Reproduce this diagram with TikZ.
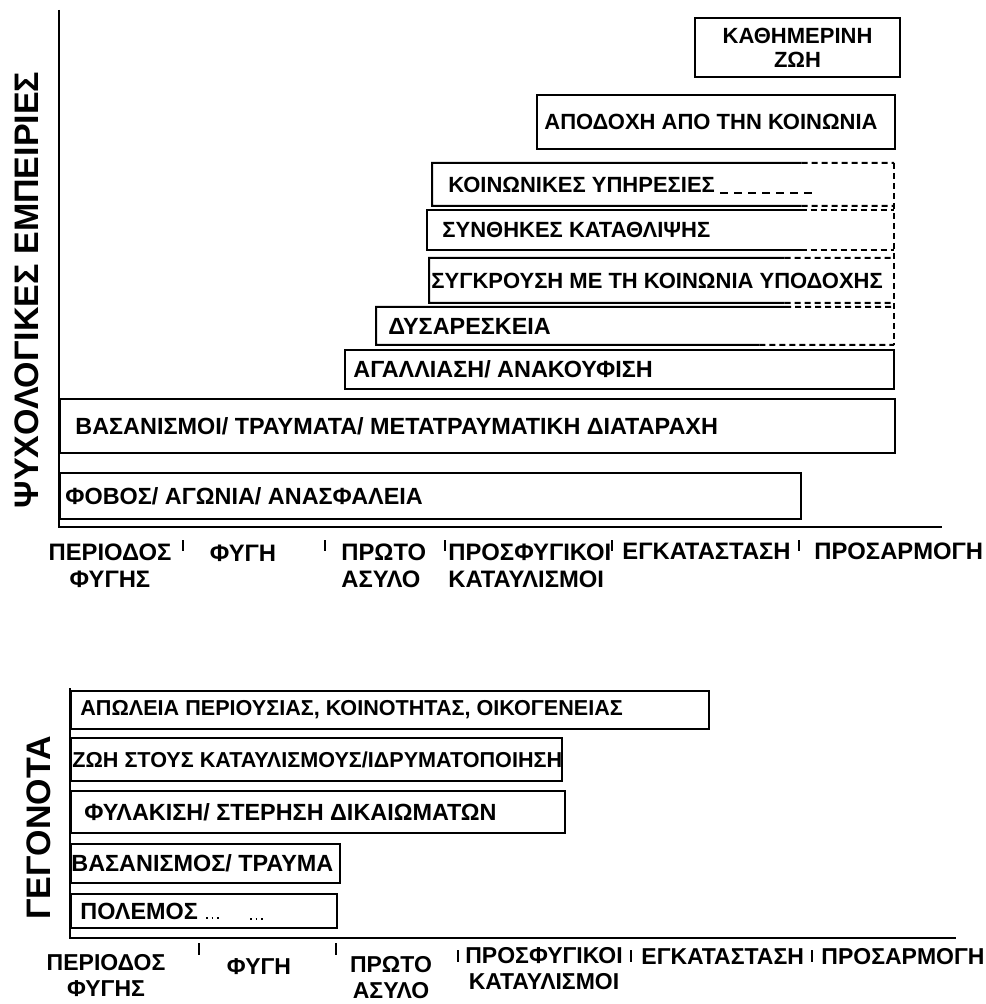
\documentclass[tikz,border=0pt]{standalone}
\usepackage{fontspec}
\setmainfont{Liberation Sans}
\usetikzlibrary{positioning,calc}

\begin{document}
\begin{tikzpicture}[x=0.5pt,y=-0.5pt,
bar/.style={draw,rectangle,anchor=north west,line width=1pt,inner sep=0pt},
openbar/.style={bar,draw=none},
txt/.style={anchor=west,inner sep=0pt,xshift=#1,font=\fontsize{11}{13}\selectfont\bfseries},
txt/.default=4pt,
largetxt/.style={font=\fontsize{11.7}{13}\selectfont\bfseries},
lowtxt/.style={txt=#1,font=\fontsize{10.8}{12}\selectfont\bfseries},
lowtxt/.default=4pt,
period/.style={inner sep=0pt,font=\fontsize{11.9}{13.5}\selectfont\bfseries},
lowperiod/.style={inner sep=0pt,font=\fontsize{11.5}{13}\selectfont\bfseries},
axis/.style={line width=1.4pt},
tickline/.style={line width=.6pt},
ylabel/.style={rotate=90,inner sep=0pt,font=\fontsize{17}{20}\selectfont\bfseries},
part/.style={dash pattern=on 3pt off 2pt,line width=1pt}]
\useasboundingbox (0,0) rectangle (985,1004);

% upper diagram
\draw[axis] (59,10) -- (59,527) -- (942,527);
\node (psy) [ylabel] at (27,290) {ΨΥΧΟΛΟΓΙΚΕΣ ΕΜΠΕΙΡΙΕΣ};

\node (kath) [bar,align=center,text width=96.5pt,inner xsep=3pt,minimum height=29.5pt,
    font=\fontsize{11}{12}\selectfont\bfseries] at (694,17) {ΚΑΘΗΜΕΡΙΝΗ\\ΖΩΗ};
\node (apod) [bar,minimum width=179pt,minimum height=27pt,
    label={[txt=4pt]west:ΑΠΟΔΟΧΗ ΑΠΟ ΤΗΝ ΚΟΙΝΩΝΙΑ}] at (536,94) {};
\node (koin) [openbar,minimum width=230pt,minimum height=20.5pt,
    label={[txt=8pt]west:ΚΟΙΝΩΝΙΚΕΣ ΥΠΗΡΕΣΙΕΣ}] at (432,163) {};
\node (synth) [openbar,minimum width=232.5pt,minimum height=19pt,
    label={[txt=7.5pt]west:ΣΥΝΘΗΚΕΣ ΚΑΤΑΘΛΙΨΗΣ}] at (427,210) {};
\node (sygk) [openbar,minimum width=231.5pt,minimum height=21.5pt,
    label={[txt=1pt]west:ΣΥΓΚΡΟΥΣΗ ΜΕ ΤΗ ΚΟΙΝΩΝΙΑ ΥΠΟΔΟΧΗΣ}] at (429,258) {};
\node (dys) [openbar,minimum width=258pt,minimum height=18pt,
    label={[txt=6pt,largetxt]west:ΔΥΣΑΡΕΣΚΕΙΑ}] at (376,307) {};
\node (agal) [bar,minimum width=274.5pt,minimum height=19.5pt,
    label={[txt=4.5pt,largetxt]west:ΑΓΑΛΛΙΑΣΗ/ ΑΝΑΚΟΥΦΙΣΗ}] at (344,349) {};
\node (vasan) [bar,minimum width=417.5pt,minimum height=27pt,
    label={[txt=8pt,largetxt]west:ΒΑΣΑΝΙΣΜΟΙ/ ΤΡΑΥΜΑΤΑ/ ΜΕΤΑΤΡΑΥΜΑΤΙΚΗ ΔΙΑΤΑΡΑΧΗ}] at (59,398) {};
\node (fovos) [bar,minimum width=370.5pt,minimum height=23pt,
    label={[txt=3pt,largetxt]west:ΦΟΒΟΣ/ ΑΓΩΝΙΑ/ ΑΝΑΣΦΑΛΕΙΑ}] at (59,472) {};

% boxes that fade out to the right
\foreach \b/\f/\g in {koin/.8/.8,synth/.8/.8,sygk/.765/.765,dys/.79/.74} {
  \draw[line width=1pt] ($(\b.north west)!\f!(\b.north east)$) -- (\b.north west)
    -- (\b.south west) -- ($(\b.south west)!\g!(\b.south east)$);
  \draw[part] ($(\b.north west)!\f!(\b.north east)$) -- (\b.north east)
    ($(\b.south west)!\g!(\b.south east)$) -- (\b.south east);
}
\draw[part] (koin.north east) -- (dys.south east);
\draw[dash pattern=on 4pt off 3pt,line width=.8pt] (720,193) -- (817,193);

\node (per1) [period,align=center] at (110,566) {ΠΕΡΙΟΔΟΣ\\ΦΥΓΗΣ};
\node (fygi1) [period] at (243,553) {ΦΥΓΗ};
\node (asylo1) [period,align=left,anchor=west] at (341,566) {ΠΡΩΤΟ\\ΑΣΥΛΟ};
\node (kat1) [period,align=left,anchor=west] at (448,566) {ΠΡΟΣΦΥΓΙΚΟΙ\\ΚΑΤΑΥΛΙΣΜΟΙ};
\node (egk1) [period,anchor=west] at (622,551) {ΕΓΚΑΤΑΣΤΑΣΗ};
\node (pros1) [period,anchor=west] at (814,551) {ΠΡΟΣΑΡΜΟΓΗ};
\foreach \x in {183,325,445,612,799}
  \draw[tickline] (\x,540) -- (\x,551);

% lower diagram
\draw[axis] (70,688) -- (70,938) -- (956,938);
\node (geg) [ylabel] at (39,828) {ΓΕΓΟΝΟΤΑ};

\node (apol) [bar,minimum width=319pt,minimum height=19pt,
    label={[lowtxt=5pt]west:{ΑΠΩΛΕΙΑ ΠΕΡΙΟΥΣΙΑΣ, ΚΟΙΝΟΤΗΤΑΣ, ΟΙΚΟΓΕΝΕΙΑΣ}}] at (70,690) {};
\node (zoi) [bar,minimum width=245.5pt,minimum height=21.5pt,
    label={[lowtxt=1pt]west:ΖΩΗ ΣΤΟΥΣ ΚΑΤΑΥΛΙΣΜΟΥΣ/ΙΔΡΥΜΑΤΟΠΟΙΗΣΗ}] at (70,737) {};
\node (fyl) [bar,minimum width=247pt,minimum height=21pt,
    label={[lowtxt=7pt,largetxt]west:ΦΥΛΑΚΙΣΗ/ ΣΤΕΡΗΣΗ ΔΙΚΑΙΩΜΑΤΩΝ}] at (70,790) {};
\node (vasm) [bar,minimum width=134.5pt,minimum height=19.5pt,
    label={[lowtxt=.5pt,largetxt]west:ΒΑΣΑΝΙΣΜΟΣ/ ΤΡΑΥΜΑ}] at (70,843) {};
\node (pol) [bar,minimum width=133pt,minimum height=17pt,
    label={[lowtxt=5pt,largetxt]west:ΠΟΛΕΜΟΣ}] at (70,893) {};
\draw[dotted,line width=.8pt] (206,918) -- (222,918) (250,919) -- (264,919);

\node (per2) [lowperiod,align=center] at (106,976) {ΠΕΡΙΟΔΟΣ\\ΦΥΓΗΣ};
\node (fygi2) [lowperiod] at (259,967) {ΦΥΓΗ};
\node (asylo2) [lowperiod,align=center] at (391,978) {ΠΡΩΤΟ\\ΑΣΥΛΟ};
\node (kat2) [lowperiod,align=center] at (544,969) {ΠΡΟΣΦΥΓΙΚΟΙ\\ΚΑΤΑΥΛΙΣΜΟΙ};
\node (egk2) [lowperiod,anchor=west] at (641,957) {ΕΓΚΑΤΑΣΤΑΣΗ};
\node (pros2) [lowperiod,anchor=west] at (821,957) {ΠΡΟΣΑΡΜΟΓΗ};
\foreach \x in {199,336}
  \draw[tickline] (\x,943) -- (\x,955);
\foreach \x in {458,631,812}
  \draw[tickline] (\x,950) -- (\x,962);
\end{tikzpicture}
\end{document}
